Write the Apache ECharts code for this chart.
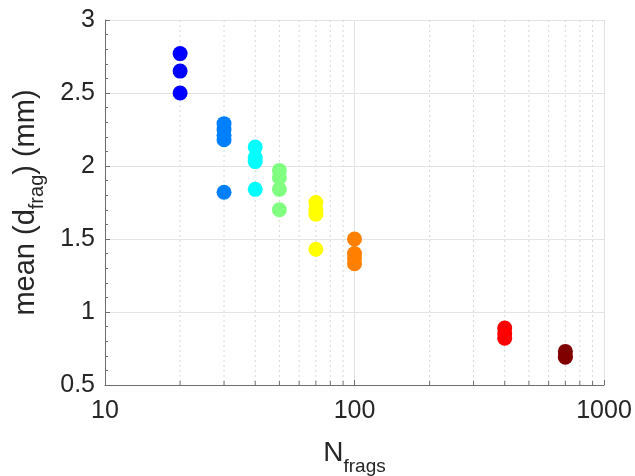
<!DOCTYPE html>
<html>
<head>
<meta charset="utf-8">
<script src="https://cdn.jsdelivr.net/npm/echarts@6/dist/echarts.min.js"></script>
<style>html,body{margin:0;padding:0;background:#fff;}#c{width:635px;height:476px;}</style>
</head>
<body>
<div id="c"></div>
<script>
// N_frags categories (x positions) and mean fragment diameters per group
const nFrags = [20, 30, 40, 50, 70, 100, 400, 700];
const d20  = [2.77, 2.65, 2.50];
const d30  = [2.29, 2.25, 2.21, 2.18, 1.82];
const d40  = [2.13, 2.06, 2.03, 1.84];
const d50  = [1.97, 1.92, 1.84, 1.70];
const d70  = [1.75, 1.70, 1.67, 1.43];
const d100 = [1.50, 1.40, 1.37, 1.33];
const d400 = [0.89, 0.85, 0.82];
const d700 = [0.73, 0.70, 0.69];
const groups = [d20, d30, d40, d50, d70, d100, d400, d700];
const groupColors = ['#0000ff', '#0080ff', '#00ffff', '#80ff80', '#ffff00', '#ff8000', '#ff0000', '#800000'];
const xMinorTicks = [20, 30, 40, 50, 60, 70, 80, 90, 200, 300, 400, 500, 600, 700, 800, 900];
const yTicks = [0.5, 1, 1.5, 2, 2.5, 3];

const FONT = 'Liberation Sans';
const TXT = '#262626';
const AX = '#6e6e6e';

const scatterSeries = groups.map((vals, i) => ({
  type: 'scatter',
  symbol: 'circle',
  symbolSize: 15,
  z: 5,
  itemStyle: { color: groupColors[i], opacity: 1 },
  data: vals.map(v => [nFrags[i], v])
}));

const minorSeries = {
  type: 'custom',
  silent: true,
  z: 1,
  data: xMinorTicks.map(v => [v]),
  encode: { x: 0 },
  renderItem: function (params, api) {
    const x = api.value(0);
    const top = api.coord([x, yTicks[yTicks.length - 1]]);
    const bot = api.coord([x, yTicks[0]]);
    return {
      type: 'group',
      children: [
        { type: 'line', shape: { x1: top[0], y1: top[1], x2: bot[0], y2: bot[1] },
          style: { stroke: '#d8d8d8', lineWidth: 1, lineDash: [2, 3] } },
        { type: 'line', shape: { x1: bot[0], y1: bot[1], x2: bot[0], y2: bot[1] - 4 },
          style: { stroke: AX, lineWidth: 1 } }
      ]
    };
  }
};

const chart = echarts.init(document.getElementById('c'), null, { renderer: 'canvas' });
chart.setOption({
  animation: false,
  backgroundColor: '#fff',
  textStyle: { fontFamily: FONT },
  grid: { left: 105, right: 31, top: 20, bottom: 91, containLabel: false, outerBoundsMode: 'none' },
  xAxis: {
    type: 'log',
    logBase: 10,
    min: 10,
    max: 1000,
    name: 'N{sub|frags}',
    nameLocation: 'middle',
    nameGap: 46,
    nameTextStyle: {
      color: TXT, fontSize: 28, fontFamily: FONT,
      rich: { sub: { fontSize: 19, color: TXT, fontFamily: FONT, padding: [26, 0, 0, 0] } }
    },
    axisLine: { show: true, onZero: false, lineStyle: { color: AX, width: 1 } },
    axisTick: { show: true, inside: true, length: 5, lineStyle: { color: AX } },
    axisLabel: { color: TXT, fontSize: 25, fontFamily: FONT, margin: 14,
      formatter: function (v) { return String(Math.round(v)); } },
    splitLine: { show: true, lineStyle: { color: '#e3e3e3', width: 1 } },
    minorTick: { show: false },
    minorSplitLine: { show: false }
  },
  yAxis: {
    type: 'value',
    min: 0.5,
    max: 3,
    interval: 0.5,
    name: 'mean (d{sub|frag}) (mm)',
    nameLocation: 'middle',
    nameGap: 58,
    nameTextStyle: {
      color: TXT, fontSize: 29, fontFamily: FONT,
      rich: { sub: { fontSize: 20, color: TXT, fontFamily: FONT, padding: [22, 0, 0, 0] } }
    },
    axisLine: { show: true, onZero: false, lineStyle: { color: AX, width: 1 } },
    axisTick: { show: true, inside: true, length: 5, lineStyle: { color: AX } },
    minorTick: { show: true, splitNumber: 5, length: 3, lineStyle: { color: AX } },
    axisLabel: { color: TXT, fontSize: 25, fontFamily: FONT, margin: 10 },
    splitLine: { show: true, lineStyle: { color: '#e3e3e3', width: 1 } }
  },
  series: [minorSeries].concat(scatterSeries)
});
</script>
</body>
</html>
